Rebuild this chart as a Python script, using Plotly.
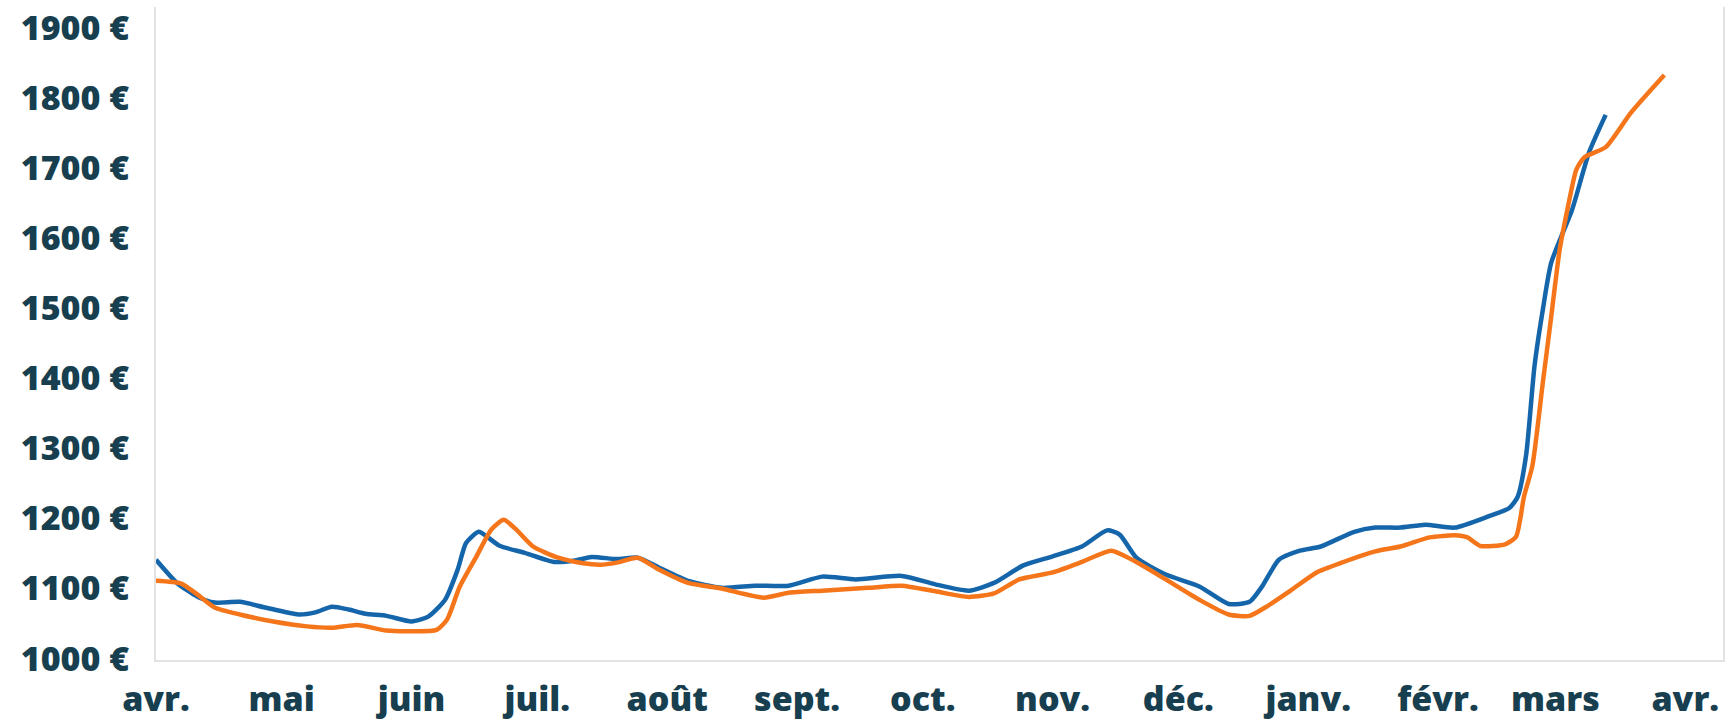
import pandas as pd
import plotly.graph_objects as go

start_date = "2021-04-01"

# Series 1 (blue): day offsets from start_date and values (€)
blue_days = [0, 5, 10, 14, 20, 26, 34, 38, 42, 46, 50, 55, 61, 65, 69, 72, 74, 77, 79, 82,
             88, 95, 100, 104, 110, 115, 120, 127, 135, 143, 151, 159, 167, 178, 186, 194,
             200, 207, 214, 221, 227, 230, 234, 241, 249, 256, 261, 264, 268, 273, 278, 286,
             291, 297, 303, 310, 318, 323, 325, 327, 329, 331, 333, 338, 342, 346]
blue_vals = [1141, 1108, 1088, 1080, 1081, 1073, 1063, 1066, 1074, 1070, 1064, 1061, 1053, 1060,
             1084, 1127, 1165, 1181, 1174, 1161, 1151, 1138, 1140, 1145, 1142, 1144, 1130, 1111,
             1101, 1104, 1104, 1117, 1113, 1118, 1106, 1097, 1108, 1133, 1146, 1160, 1183, 1177,
             1144, 1120, 1103, 1078, 1081, 1103, 1141, 1154, 1160, 1181, 1187, 1187, 1191, 1187,
             1203, 1215, 1231, 1290, 1417, 1498, 1565, 1641, 1722, 1776]

# Series 2 (orange)
orange_days = [0, 6, 10, 14, 20, 28, 36, 42, 48, 55, 61, 67, 69.5, 72.5, 76.5, 80, 83, 86, 90,
               96, 102, 106, 110, 115, 120, 127, 135, 145, 151, 159, 170, 178, 186, 194, 200,
               206, 214, 221, 228, 233, 241, 249, 256, 261, 265, 271, 277, 283, 291, 297, 304,
               310, 313, 316, 322, 324.6, 326.5, 328.5, 331, 333, 335, 337, 339, 341, 346, 352, 360]
orange_vals = [1111, 1107, 1091, 1073, 1063, 1053, 1046, 1044, 1048, 1040, 1039, 1041, 1056, 1103,
               1146, 1184, 1198, 1184, 1160, 1144, 1136, 1134, 1137, 1144, 1127, 1108, 1100, 1087,
               1094, 1097, 1101, 1104, 1096, 1088, 1093, 1113, 1123, 1138, 1154, 1141, 1113, 1084,
               1063, 1061, 1074, 1098, 1123, 1137, 1153, 1160, 1173, 1176, 1173, 1161, 1163, 1174,
               1231, 1275, 1394, 1488, 1583, 1645, 1698, 1716, 1730, 1779, 1833]

month_ticks = ["2021-04-01", "2021-05-01", "2021-06-01", "2021-07-01", "2021-08-01", "2021-09-01",
               "2021-10-01", "2021-11-01", "2021-12-01", "2022-01-01", "2022-02-01", "2022-03-01",
               "2022-04-01"]
month_labels = ["avr.", "mai", "juin", "juil.", "août", "sept.", "oct.", "nov.", "déc.",
                "janv.", "févr.", "mars", "avr."]
y_ticks = [1000, 1100, 1200, 1300, 1400, 1500, 1600, 1700, 1800, 1900]
y_labels = [f"{v} €" for v in y_ticks]

t0 = pd.Timestamp(start_date)
blue_x = [t0 + pd.Timedelta(days=d) for d in blue_days]
orange_x = [t0 + pd.Timedelta(days=d) for d in orange_days]

TEXT = "#173f4f"
font = dict(family="Open Sans", size=34, color=TEXT, weight=800)

fig = go.Figure()
fig.add_trace(go.Scatter(x=blue_x, y=blue_vals, mode="lines",
                         line=dict(color="#1565ab", width=4.5, shape="spline", smoothing=0.6),
                         showlegend=False))
fig.add_trace(go.Scatter(x=orange_x, y=orange_vals, mode="lines",
                         line=dict(color="#f5761a", width=4.5, shape="spline", smoothing=0.6),
                         showlegend=False))

fig.update_layout(
    width=1735, height=720,
    margin=dict(l=156, r=12, t=7, b=60, autoexpand=False),
    paper_bgcolor="white", plot_bgcolor="white",
    font=font,
)
fig.update_xaxes(
    type="date",
    range=["2021-04-01", "2022-04-10"],
    tickvals=month_ticks, ticktext=month_labels,
    showgrid=False, zeroline=False, automargin=False,
    showline=True, linecolor="#e3e3e3", linewidth=2, mirror=False,
    ticks="", tickfont=font, ticklabelstandoff=8,
)
fig.update_yaxes(
    range=[998, 1930],
    tickvals=y_ticks, ticktext=y_labels,
    showgrid=False, zeroline=False, automargin=False,
    showline=True, linecolor="#e3e3e3", linewidth=2, mirror=True,
    ticks="", tickfont=font, ticklabelstandoff=18,
)

fig.write_html("out.html", config={"displayModeBar": False},
               post_script="document.body.style.margin='0';")
